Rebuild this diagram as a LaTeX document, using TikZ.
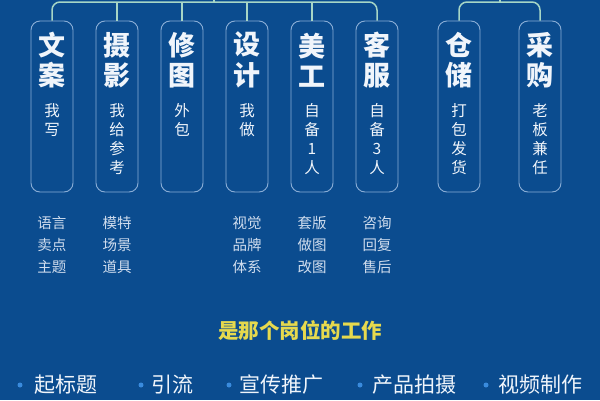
\documentclass[tikz,border=0pt]{standalone}
\usepackage{fontspec}
\setmainfont{Noto Sans CJK SC}
\definecolor{bgblue}{HTML}{0B4C8F}
\definecolor{boxline}{HTML}{8AAED6}
\definecolor{linkgreen}{HTML}{A6D6C6}
\definecolor{ink}{HTML}{F0F5FB}
\definecolor{notegray}{HTML}{D0DDEE}
\definecolor{gold}{HTML}{E6D94E}
\definecolor{dotblue}{HTML}{3A8BDD}
\begin{document}
\begin{tikzpicture}[x=1pt, y=-1pt,
  post/.style={shape=rectangle, draw=boxline, line width=0.9pt, rounded corners=9pt, minimum width=42pt, minimum height=171pt, inner sep=0pt},
  head/.style={text=ink, font=\fontsize{27}{30.5}\selectfont\bfseries, align=center, inner sep=0pt},
  sub/.style={text=ink, font=\fontsize{15.5}{19}\selectfont, align=center, inner sep=0pt, anchor=north},
  note/.style={text=notegray, font=\fontsize{14.5}{22}\selectfont, align=center, inner sep=0pt, anchor=north},
  link/.style={draw=linkgreen, line width=1.5pt},
  item/.style={text=ink, font=\fontsize{21}{24}\selectfont, anchor=west, inner sep=0pt}]
\fill[bgblue] (0,0) rectangle (600,400);
\useasboundingbox (0,0) rectangle (600,400);
% posts
\node[post] (1) at (52,106.5) {};
\node[post] (2) at (117,106.5) {};
\node[post] (3) at (182,106.5) {};
\node[post] (4) at (247,106.5) {};
\node[post] (5) at (312,106.5) {};
\node[post] (6) at (377,106.5) {};
\node[post] (7) at (459,106.5) {};
\node[post] (8) at (540,106.5) {};
\node[head] (1a) at (52,60) {文\\案};
\node[head] (2a) at (117,60) {摄\\影};
\node[head] (3a) at (182,60) {修\\图};
\node[head] (4a) at (247,60) {设\\计};
\node[head] (5a) at (312,60) {美\\工};
\node[head] (6a) at (377,60) {客\\服};
\node[head] (7a) at (459,60) {仓\\储};
\node[head] (8a) at (540,60) {采\\购};
\node[sub] (1b) at (52,103.5) {我\\写};
\node[sub] (2b) at (117,103.5) {我\\给\\参\\考};
\node[sub] (3b) at (182,103.5) {外\\包};
\node[sub] (4b) at (247,103.5) {我\\做};
\node[sub] (5b) at (312,103.5) {自\\备\\1\\人};
\node[sub] (6b) at (377,103.5) {自\\备\\3\\人};
\node[sub] (7b) at (459,103.5) {打\\包\\发\\货};
\node[sub] (8b) at (540,103.5) {老\\板\\兼\\任};
% links on top
\coordinate (L) at (214,2);
\coordinate (R) at (500,2);
\coordinate (Lup) at (214,0);
\coordinate (Rup) at (500,0);
\draw[link, rounded corners=8pt] (1.north) |- (L) -| (6.north);
\draw[link, rounded corners=8pt] (7.north) |- (R) -| (8.north);
\path [link] (2.north) edge (2.north |- L);
\path [link] (3.north) edge (3.north |- L);
\path [link] (4.north) edge (4.north |- L);
\path [link] (5.north) edge (5.north |- L);
\path [link] (L) edge (Lup);
\path [link] (R) edge (Rup);
% notes
\node[note] (n1) at (52,216.5) {语言\\卖点\\主题};
\node[note] (n2) at (117,216.5) {模特\\场景\\道具};
\node[note] (n4) at (247,216.5) {视觉\\品牌\\体系};
\node[note] (n5) at (312,216.5) {套版\\做图\\改图};
\node[note] (n6) at (377,216.5) {咨询\\回复\\售后};
\node[text=gold, font=\fontsize{20.5}{24}\selectfont\bfseries] (q) at (300,331) {是那个岗位的工作};
% bottom row
\node[item] (i1) at (34,385) {起标题};
\node[item] (i2) at (151,385) {引流};
\node[item] (i3) at (239,385) {宣传推广};
\node[item] (i4) at (372,385) {产品拍摄};
\node[item] (i5) at (498,385) {视频制作};
\fill[dotblue] (20,385) circle (2.5);
\fill[dotblue] (141,385) circle (2.5);
\fill[dotblue] (229,385) circle (2.5);
\fill[dotblue] (360,385) circle (2.5);
\fill[dotblue] (486,385) circle (2.5);
\end{tikzpicture}
\end{document}
